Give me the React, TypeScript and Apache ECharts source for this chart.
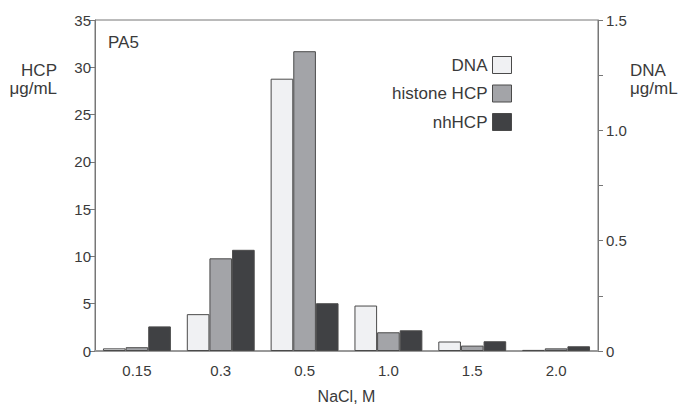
import React, { useEffect, useRef } from "react";
import * as echarts from "echarts";

const categories = ["0.15", "0.3", "0.5", "1.0", "1.5", "2.0"];
const dnaValues = [0.012, 0.167, 1.234, 0.206, 0.043, 0.005];
const histoneValues = [0.4, 9.8, 31.7, 1.98, 0.57, 0.28];
const nhValues = [2.6, 10.7, 5.05, 2.19, 1.03, 0.5];
const leftTicks = { min: 0, max: 35, interval: 5 };
const rightTicks = { min: 0, max: 1.5, interval: 0.25 };

const FONT = "'Liberation Sans', Arial, Helvetica, sans-serif";
const TXT = "#3a3a3a";

export default function App() {
  const ref = useRef<HTMLDivElement>(null);
  useEffect(() => {
    if (!ref.current) return;
    const chart = echarts.init(ref.current, null, { renderer: "svg" });
    const border = { borderColor: "#4a4a4a", borderWidth: 1 };
    chart.setOption({
      animation: false,
      backgroundColor: "#ffffff",
      textStyle: { fontFamily: FONT },
      grid: {
        left: 95,
        right: 83,
        top: 20,
        bottom: 54,
        containLabel: false,
        outerBoundsMode: "none",
        show: true,
        borderColor: "#777",
        borderWidth: 1,
        backgroundColor: "transparent",
      },
      legend: {
        data: ["DNA", "histone HCP", "nhHCP"],
        orient: "vertical",
        align: "right",
        right: 164,
        top: 51,
        itemWidth: 19,
        itemHeight: 17,
        itemGap: 10.5,
        icon: "rect",
        itemStyle: { borderWidth: 1, borderColor: "#4a4a4a" },
        textStyle: { fontSize: 17, color: TXT, fontFamily: FONT, lineHeight: 17 },
      },
      xAxis: {
        type: "category",
        data: categories,
        axisLine: { lineStyle: { color: "#999", width: 2 } },
        axisTick: { alignWithLabel: true, length: 5, lineStyle: { color: "#777", width: 1 } },
        axisLabel: { fontSize: 15, color: TXT, margin: 12, fontFamily: FONT },
        name: "NaCl, M",
        nameLocation: "middle",
        nameGap: 37,
        nameTextStyle: { fontSize: 16, color: TXT, fontFamily: FONT, lineHeight: 16 },
      },
      yAxis: [
        {
          type: "value",
          min: leftTicks.min,
          max: leftTicks.max,
          interval: leftTicks.interval,
          position: "left",
          axisLine: { show: true, lineStyle: { color: "#777", width: 1 } },
          axisTick: { show: true, length: 5, lineStyle: { color: "#777" } },
          axisLabel: { fontSize: 15, color: TXT, margin: 4, fontFamily: FONT },
          splitLine: { show: false },
        },
        {
          type: "value",
          min: rightTicks.min,
          max: rightTicks.max,
          interval: rightTicks.interval,
          position: "right",
          axisLine: { show: true, lineStyle: { color: "#777", width: 1 } },
          axisTick: { show: true, length: 5, lineStyle: { color: "#777" } },
          axisLabel: {
            fontSize: 15,
            color: TXT,
            margin: 8,
            fontFamily: FONT,
            formatter: (v: number) => {
              if (v === 0) return "0";
              return Math.abs(v * 2 - Math.round(v * 2)) < 1e-6 ? v.toFixed(1) : "";
            },
          },
          splitLine: { show: false },
        },
      ],
      series: [
        {
          name: "DNA",
          type: "bar",
          yAxisIndex: 1,
          data: dnaValues,
          barGap: "0%",
          barCategoryGap: "19%",
          itemStyle: { color: "#f0f1f3", ...border },
        },
        {
          name: "histone HCP",
          type: "bar",
          yAxisIndex: 0,
          data: histoneValues,
          barGap: "0%",
          barCategoryGap: "19%",
          itemStyle: { color: "#a3a4a8", ...border },
        },
        {
          name: "nhHCP",
          type: "bar",
          yAxisIndex: 0,
          data: nhValues,
          barGap: "0%",
          barCategoryGap: "19%",
          itemStyle: { color: "#404144", ...border },
        },
      ],
      graphic: [
        {
          type: "text",
          left: 108,
          top: 34,
          style: { text: "PA5", fontSize: 17, fill: TXT, fontFamily: FONT },
        },
        {
          type: "text",
          x: 57,
          y: 61,
          style: {
            text: "HCP\nμg/mL",
            fontSize: 17,
            lineHeight: 18,
            fill: TXT,
            fontFamily: FONT,
            align: "right",
            verticalAlign: "top",
          },
        },
        {
          type: "text",
          x: 630,
          y: 61,
          style: {
            text: "DNA\nμg/mL",
            fontSize: 17,
            lineHeight: 18,
            fill: TXT,
            fontFamily: FONT,
            align: "left",
            verticalAlign: "top",
          },
        },
      ],
    });
    return () => chart.dispose();
  }, []);
  return (
    <div
      ref={ref}
      style={{ position: "absolute", left: 0, top: 0, width: 681, height: 405 }}
    />
  );
}
